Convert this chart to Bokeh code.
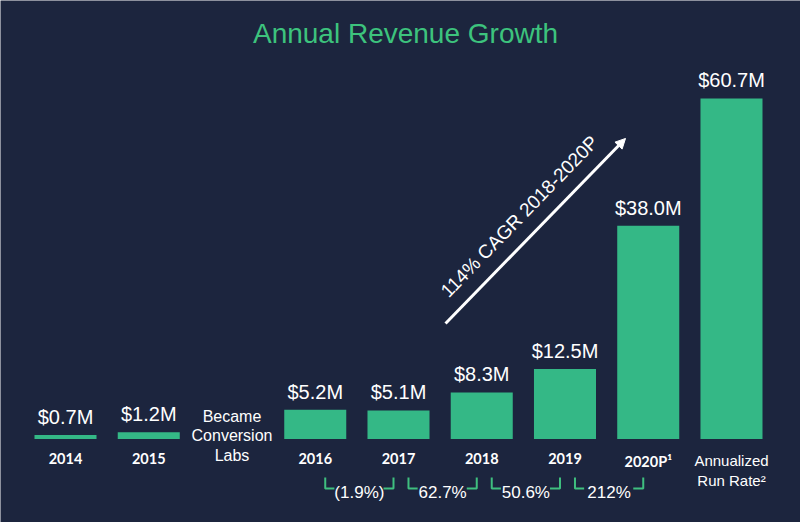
from bokeh.plotting import figure
from bokeh.models import Range1d, ColumnDataSource, Arrow, NormalHead
from bokeh.core.properties import value
from bokeh.embed import file_html
from bokeh.resources import INLINE

# ---------------- data ----------------
categories = ["2014", "2015", "Became\nConversion\nLabs", "2016", "2017",
              "2018", "2019", "2020P\u00b9", "Annualized\nRun Rate\u00b2"]
revenue = [0.7, 1.2, None, 5.2, 5.1, 8.3, 12.5, 38.0, 60.7]
value_labels = ["$0.7M", "$1.2M", "", "$5.2M", "$5.1M", "$8.3M",
                "$12.5M", "$38.0M", "$60.7M"]
growth_from = ["2016", "2017", "2018", "2019"]
growth_to = ["2017", "2018", "2019", "2020P\u00b9"]
growth_labels = ["(1.9%)", "62.7%", "50.6%", "212%"]
note_category = "Became\nConversion\nLabs"
cagr_label = "114% CAGR 2018-2020P"
title_text = "Annual Revenue Growth"

# ---------------- style ----------------
BG = "#1c253e"
BAR = "#34b886"
TITLE_C = "#3dc37d"
LINE_G = "#3fbf7f"
WHITE = "#ffffff"
FONT = "Liberation Sans"
YEAR_FONT = "Lato"
BAR_W = 0.745

p = figure(width=800, height=522, output_backend="svg", toolbar_location=None,
           x_range=Range1d(-0.7808, 8.829), y_range=Range1d(-14.88, 78.16),
           min_border=0, min_border_left=0, min_border_right=0,
           min_border_top=0, min_border_bottom=0)
p.background_fill_color = BG
p.border_fill_color = BG
p.outline_line_color = None
p.xaxis.visible = False
p.yaxis.visible = False
p.xgrid.visible = False
p.ygrid.visible = False

pos = {c: i for i, c in enumerate(categories)}

# bars
bx = [i for i, r in enumerate(revenue) if r is not None]
btop = [revenue[i] for i in bx]
blab = [value_labels[i] for i in bx]
bars = ColumnDataSource(dict(x=bx, top=btop, lab=blab))
p.vbar(x="x", top="top", bottom=0, width=BAR_W, source=bars,
       fill_color=BAR, line_color=None)
p.text(x="x", y="top", text="lab", source=bars, text_align="center",
       text_baseline="middle", y_offset=-18, text_color=WHITE,
       text_font=value(FONT), text_font_size="20px")

# category labels (single-line years)
years = [c for c in categories if c != note_category and "\n" not in c]
yr_src = ColumnDataSource(dict(x=[pos[c] for c in years], y=[0] * len(years), t=years))
p.text(x="x", y="y", text="t", source=yr_src, text_align="center",
       text_baseline="top", y_offset=14, text_color=WHITE,
       text_font=value(YEAR_FONT), text_font_style="bold", text_font_size="14.5px")

# category labels (multi-line)
multi = [c for c in categories if c != note_category and "\n" in c]
ml_src = ColumnDataSource(dict(x=[pos[c] for c in multi], y=[0] * len(multi), t=multi))
p.text(x="x", y="y", text="t", source=ml_src, text_align="center",
       text_baseline="top", y_offset=13, text_color=WHITE,
       text_font=value(FONT), text_font_size="15px", text_line_height=1.2)

# note
p.text(x=[pos[note_category]], y=[0.6], text=[note_category], text_align="center",
       text_baseline="middle", text_color=WHITE, text_font=value(FONT),
       text_font_size="16px", text_line_height=1.15)

# growth brackets
B_TOP, B_BOT = -6.86, -8.82
HL, HR, LOFF, ROFF = 0.11, 0.12, 0.12, 0.06
xs, ys, gx = [], [], []
for a, b in zip(growth_from, growth_to):
    xl = pos[a] + LOFF
    xr = pos[b] - ROFF
    xs.append([xl, xl, xl + HL]); ys.append([B_TOP, B_BOT, B_BOT])
    xs.append([xr - HR, xr, xr]); ys.append([B_BOT, B_BOT, B_TOP])
    gx.append((xl + xr) / 2)
p.multi_line(xs=xs, ys=ys, line_color=LINE_G, line_width=2)
p.text(x=gx, y=[B_BOT] * len(gx), text=growth_labels, text_align="center",
       text_baseline="middle", y_offset=4, text_color=WHITE,
       text_font=value(FONT), text_font_size="17px")

# CAGR arrow
p.add_layout(Arrow(end=NormalHead(size=10, fill_color=WHITE, line_color=WHITE),
                   x_start=4.565, y_start=20.59, x_end=6.727, y_end=53.57,
                   line_color=WHITE, line_width=3))
p.text(x=[5.453], y=[39.66], text=[cagr_label], angle=0.80, text_align="center",
       text_baseline="middle", text_color=WHITE, text_font=value(FONT),
       text_font_size="19px")

# title
p.text(x=[4.084], y=[72.28], text=[title_text], text_align="center",
       text_baseline="middle", text_color=TITLE_C, text_font=value(FONT),
       text_font_size="28px")

html = file_html(p, INLINE)
html = html.replace("<body>", '<body style="margin:0;background-color:%s;">' % BG, 1)
open("out.html", "w").write(html)
